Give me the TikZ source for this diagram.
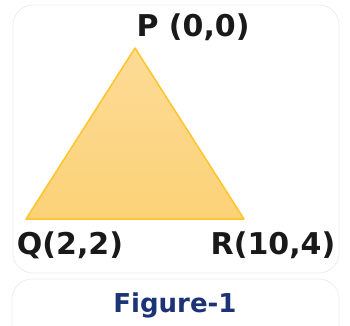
\documentclass[tikz,border=0pt]{standalone}
\usepackage{fontspec}
\setmainfont{DejaVu Sans}
\usetikzlibrary{positioning}
\definecolor{triedge}{RGB}{255,197,40}
\definecolor{tritop}{RGB}{253,219,150}
\definecolor{tribot}{RGB}{252,210,120}
\definecolor{figblue}{RGB}{28,52,118}
\definecolor{panelline}{RGB}{238,238,238}
\tikzset{
  panel/.style={draw=panelline, line width=0.8pt, fill=white, rounded corners=20pt},
  vlabel/.style={font=\fontsize{30}{34}\selectfont\bfseries, text=black!90, inner sep=0pt},
}
\begin{document}
\begin{tikzpicture}[x=1pt, y=-1pt]
  \useasboundingbox (0,0) rectangle (350,325);
  \fill[white] (0,0) rectangle (350,325);
  % panels
  \draw[panel] (13,5) rectangle (339,273);
  \draw[panel] (12,279) rectangle (339,345);

  % triangle vertices
  \coordinate (P) at (135,48);
  \coordinate (Q) at (26,219);
  \coordinate (R) at (244,219);
  \shade[top color=tritop, bottom color=tribot] (P) -- (Q) -- (R) -- cycle;
  \draw[triedge, line width=1.5pt, line join=round] (P) -- (Q) -- (R) -- cycle;

  % labels
  \node[vlabel] (lblP) at (193,27) {P (0,0)};
  \node[vlabel] (lblQ) at (70,245) {Q(2,2)};
  \node[vlabel] (lblR) at (273,245) {R(10,4)};
  \node[font=\fontsize{26}{30}\selectfont\bfseries, text=figblue, inner sep=0pt] (fig) at (175,305) {Figure-1};
\end{tikzpicture}
\end{document}
